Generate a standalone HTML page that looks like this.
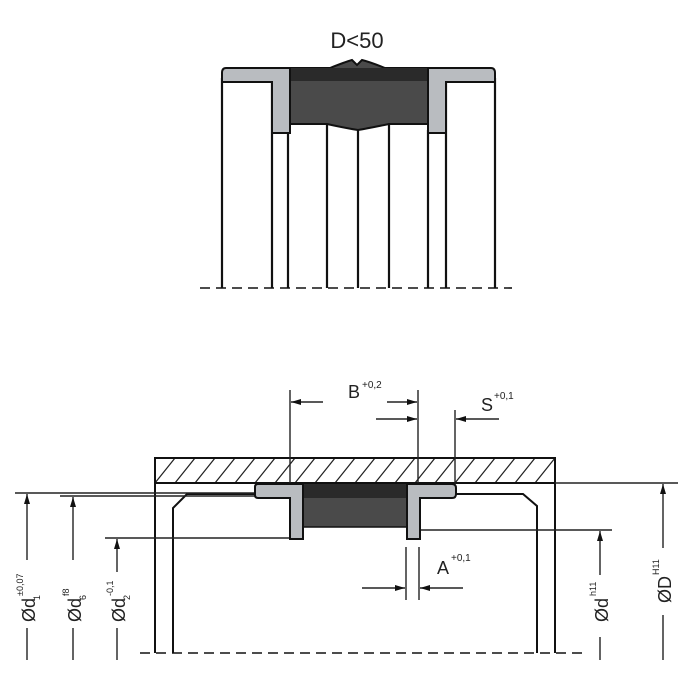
<!DOCTYPE html>
<html><head><meta charset="utf-8"><style>
html,body{margin:0;padding:0;background:#fff;}
svg{display:block;}
text{font-family:"Liberation Sans",sans-serif;fill:#222;}
</style></head><body>
<svg width="700" height="699" viewBox="0 0 700 699" xmlns="http://www.w3.org/2000/svg">
<defs>
<pattern id="h" width="20" height="25" patternUnits="userSpaceOnUse" patternTransform="translate(155,458)">
<line x1="0" y1="25" x2="20" y2="0" stroke="#222" stroke-width="1.2"/>
</pattern>
<marker id="ar" markerWidth="10" markerHeight="6" refX="10" refY="3" orient="auto" markerUnits="userSpaceOnUse">
<path d="M0,0 L10,3 L0,6 Z" fill="#111"/>
</marker>
</defs>

<!-- TOP FIGURE -->
<text x="357" y="48" font-size="22" text-anchor="middle">D&lt;50</text>
<g stroke="#111" stroke-width="2.2" fill="none">
<line x1="222" y1="78" x2="222" y2="288"/>
<line x1="272" y1="82" x2="272" y2="288"/>
<line x1="288" y1="130" x2="288" y2="288"/>
<line x1="327" y1="125" x2="327" y2="288"/>
<line x1="358" y1="128" x2="358" y2="288"/>
<line x1="389" y1="125" x2="389" y2="288"/>
<line x1="428" y1="130" x2="428" y2="288"/>
<line x1="446" y1="82" x2="446" y2="288"/>
<line x1="495" y1="78" x2="495" y2="288"/>
</g>
<line x1="200" y1="288" x2="512" y2="288" stroke="#111" stroke-width="1.6" stroke-dasharray="10,6"/>
<!-- center dark -->
<path d="M288,68 L330,68 Q345,62 352,60 L357,65 L362,60 Q370,62 385,68 L430,68 L430,124 L389,124 Q370,128 358,130 Q345,128 327,124 L288,124 Z" fill="#4a4a4a" stroke="#111" stroke-width="2"/>
<rect x="290" y="68" width="138" height="13" fill="#2a2a2a"/>
<!-- left L -->
<path d="M226,68 L290,68 L290,133 L272,133 L272,82 L222,82 L222,73 Q222,68 226,68 Z" fill="#b9bcc0" stroke="#111" stroke-width="2"/>
<!-- right L -->
<path d="M428,68 L491,68 Q495,68 495,73 L495,82 L446,82 L446,133 L428,133 Z" fill="#b9bcc0" stroke="#111" stroke-width="2"/>

<!-- BOTTOM FIGURE -->
<rect x="155" y="458" width="400" height="25" fill="url(#h)" stroke="#111" stroke-width="2"/>
<g stroke="#111" stroke-width="2" fill="none">
<line x1="155" y1="483" x2="155" y2="653"/>
<line x1="555" y1="483" x2="555" y2="653"/>
<path d="M173,653 L173,508 L187,494 L255,494"/>
<path d="M537,653 L537,506 L523,494 L456,494"/>
</g>
<line x1="140" y1="653" x2="582" y2="653" stroke="#111" stroke-width="1.6" stroke-dasharray="10,6"/>
<!-- extension lines -->
<g stroke="#222" stroke-width="1.4">
<line x1="555" y1="483" x2="678" y2="483"/>
<line x1="15" y1="493" x2="255" y2="493"/>
<line x1="60" y1="496" x2="255" y2="496"/>
<line x1="105" y1="538" x2="290" y2="538"/>
<line x1="420" y1="530" x2="612" y2="530"/>
<line x1="290" y1="390" x2="290" y2="484"/>
<line x1="418" y1="390" x2="418" y2="484"/>
<line x1="455" y1="410" x2="455" y2="484"/>
<line x1="406" y1="547" x2="406" y2="600"/>
<line x1="419" y1="547" x2="419" y2="600"/>
</g>
<!-- seal -->
<rect x="303" y="484" width="104" height="43" fill="#4a4a4a" stroke="#111" stroke-width="1.5"/>
<rect x="303" y="484" width="104" height="14" fill="#2a2a2a"/>
<path d="M258,484 L303,484 L303,539 L290,539 L290,498 L258,498 Q255,498 255,495 L255,487 Q255,484 258,484 Z" fill="#b9bcc0" stroke="#111" stroke-width="2"/>
<path d="M407,484 L452,484 Q456,484 456,488 L456,494 Q456,498 452,498 L420,498 L420,539 L407,539 Z" fill="#b9bcc0" stroke="#111" stroke-width="2"/>

<!-- dimension arrows -->
<g stroke="#222" stroke-width="1.4" marker-end="url(#ar)">
<line x1="323" y1="402" x2="291" y2="402"/>
<line x1="387" y1="402" x2="417" y2="402"/>
<line x1="376" y1="419" x2="417" y2="419"/>
<line x1="499" y1="419" x2="456" y2="419"/>
<line x1="362" y1="588" x2="405" y2="588"/>
<line x1="463" y1="588" x2="420" y2="588"/>
<line x1="27" y1="560" x2="27" y2="494"/>
<line x1="73" y1="560" x2="73" y2="497"/>
<line x1="117" y1="572" x2="117" y2="539"/>
<line x1="600" y1="575" x2="600" y2="531"/>
<line x1="663" y1="548" x2="663" y2="484"/>
</g>
<g stroke="#222" stroke-width="1.4">
<line x1="27" y1="628" x2="27" y2="660"/>
<line x1="73" y1="628" x2="73" y2="660"/>
<line x1="117" y1="628" x2="117" y2="660"/>
<line x1="600" y1="637" x2="600" y2="660"/>
<line x1="663" y1="615" x2="663" y2="660"/>
</g>
<!-- labels -->
<text x="348" y="398" font-size="18">B</text><text x="362" y="388" font-size="10">+0,2</text>
<text x="481" y="411" font-size="18">S</text><text x="494" y="399" font-size="10">+0,1</text>
<text x="437" y="574" font-size="18">A</text><text x="451" y="561" font-size="10">+0,1</text>

<g transform="translate(35,622) rotate(-90)"><text font-size="18">Ød</text><text x="22" y="5" font-size="9">1</text><text x="26" y="-12" font-size="9">±0,07</text></g>
<g transform="translate(81,622) rotate(-90)"><text font-size="18">Ød</text><text x="22" y="5" font-size="9">6</text><text x="26" y="-12" font-size="9">f8</text></g>
<g transform="translate(125,622) rotate(-90)"><text font-size="18">Ød</text><text x="22" y="5" font-size="9">2</text><text x="26" y="-12" font-size="9">-0,1</text></g>
<g transform="translate(608,622) rotate(-90)"><text font-size="18">Ød</text><text x="26" y="-12" font-size="9">h11</text></g>
<g transform="translate(671,603) rotate(-90)"><text font-size="18">ØD</text><text x="28" y="-12" font-size="9">H11</text></g>
</svg>
</body></html>
